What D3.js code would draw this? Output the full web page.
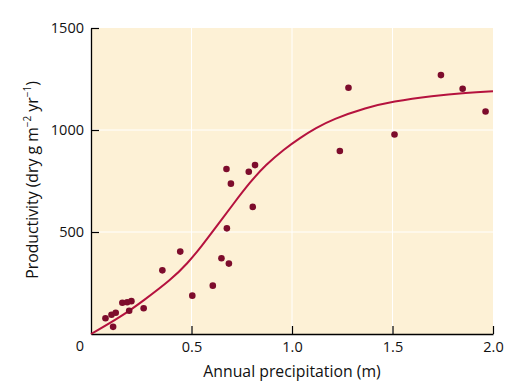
<html>
<head>
  <style>
  body {
    margin: 0;
    background: #fff;
  }
  text {
    font-family: "Open Sans", sans-serif;
    fill: #111;
  }
  </style>
</head>
<body>
  <div id="chart"></div>

  <script src="https://d3js.org/d3.v7.min.js"></script>
  <script>

  'use strict';

  // observed sites: precipitation (m) vs productivity
  var precip = [0.072, 0.102, 0.123, 0.110, 0.156, 0.180, 0.201, 0.190, 0.262,
                0.355, 0.444, 0.504, 0.606, 0.649, 0.686, 0.674, 0.816, 0.785,
                0.696, 0.805, 0.676, 1.281, 1.238, 1.510, 1.741, 1.849, 1.963];
  var productivity = [77, 94, 104, 35, 153, 156, 161, 114, 126,
                      312, 404, 188, 237, 371, 345, 809, 828, 795,
                      737, 623, 518, 1207, 897, 978, 1269, 1202, 1091];

  // fitted curve
  var fitX = [0, 0.15, 0.26, 0.40, 0.48, 0.55, 0.63, 0.71, 0.79, 0.87,
              0.96, 1.04, 1.12, 1.20, 1.37, 1.50, 1.70, 1.87, 2.0];
  var fitY = [0, 85, 163, 268, 346, 430, 535, 640, 743, 830,
              905, 962, 1010, 1052, 1110, 1140, 1168, 1183, 1190];

  var xTicks = [0.5, 1.0, 1.5, 2.0];
  var yTicks = [500, 1000, 1500];

  var width = 529,
      height = 387,
      margin = {top: 28, right: 36, bottom: 53, left: 91};

  var x = d3.scaleLinear().domain([0, 2]).range([margin.left, width - margin.right]);
  var y = d3.scaleLinear().domain([0, 1500]).range([height - margin.bottom, margin.top]);

  var svg = d3.select('#chart').append('svg')
      .attr('width', width)
      .attr('height', height);

  svg.append('rect')
      .attr('x', x(0)).attr('y', y(1500))
      .attr('width', x(2) - x(0)).attr('height', y(0) - y(1500))
      .attr('fill', '#fdf1d6');

  // faint white grid
  svg.append('g').selectAll('line').data(xTicks.slice(0, -1)).enter().append('line')
      .attr('x1', d => x(d)).attr('x2', d => x(d))
      .attr('y1', y(0)).attr('y2', y(1500))
      .attr('stroke', '#fff').attr('stroke-width', 1);
  svg.append('g').selectAll('line').data(yTicks.slice(0, -1)).enter().append('line')
      .attr('x1', x(0)).attr('x2', x(2))
      .attr('y1', d => y(d)).attr('y2', d => y(d))
      .attr('stroke', '#fff').attr('stroke-width', 1);

  var xAxis = svg.append('g')
      .attr('transform', 'translate(0,' + y(0) + ')')
      .call(d3.axisBottom(x).tickValues(xTicks).tickFormat(d3.format('.1f'))
            .tickSizeInner(-8).tickSizeOuter(0).tickPadding(8));
  var yAxis = svg.append('g')
      .attr('transform', 'translate(' + x(0) + ',0)')
      .call(d3.axisLeft(y).tickValues(yTicks).tickFormat(d3.format('d'))
            .tickSizeInner(-8).tickSizeOuter(0).tickPadding(7));

  [xAxis, yAxis].forEach(function(a) {
    a.select('.domain').attr('stroke', '#000').attr('stroke-width', 1.3);
    a.selectAll('.tick line').attr('stroke', '#000').attr('stroke-width', 1.2);
    a.selectAll('.tick text').attr('font-size', 14.5).attr('font-family', '"Open Sans", sans-serif').attr('fill', '#111');
  });

  // shared origin label
  svg.append('text')
      .attr('x', x(0) - 11).attr('y', y(0) + 17)
      .attr('text-anchor', 'middle')
      .attr('font-size', 14.5)
      .text('0');

  var line = d3.line()
      .x((d, i) => x(fitX[i]))
      .y(d => y(d))
      .curve(d3.curveBasis);

  svg.append('path')
      .datum(fitY)
      .attr('d', line)
      .attr('fill', 'none')
      .attr('stroke', '#b5123e')
      .attr('stroke-width', 2);

  svg.append('g').selectAll('circle').data(productivity).enter().append('circle')
      .attr('cx', (d, i) => x(precip[i]))
      .attr('cy', d => y(d))
      .attr('r', 3.3)
      .attr('fill', '#7d0c2c');

  svg.append('text')
      .attr('x', 292).attr('y', 377)
      .attr('text-anchor', 'middle')
      .attr('font-size', 15.8)
      .text('Annual precipitation (m)');

  var yt = svg.append('text')
      .attr('transform', 'translate(38,180) rotate(-90)')
      .attr('text-anchor', 'middle')
      .attr('font-size', 15.8);
  yt.append('tspan').text('Productivity (dry g m');
  yt.append('tspan').attr('dy', -7).attr('font-size', 10).text('\u22122');
  yt.append('tspan').attr('dy', 7).text(' yr');
  yt.append('tspan').attr('dy', -7).attr('font-size', 10).text('\u22121');
  yt.append('tspan').attr('dy', 7).text(')');

  </script>
</body>
</html>
